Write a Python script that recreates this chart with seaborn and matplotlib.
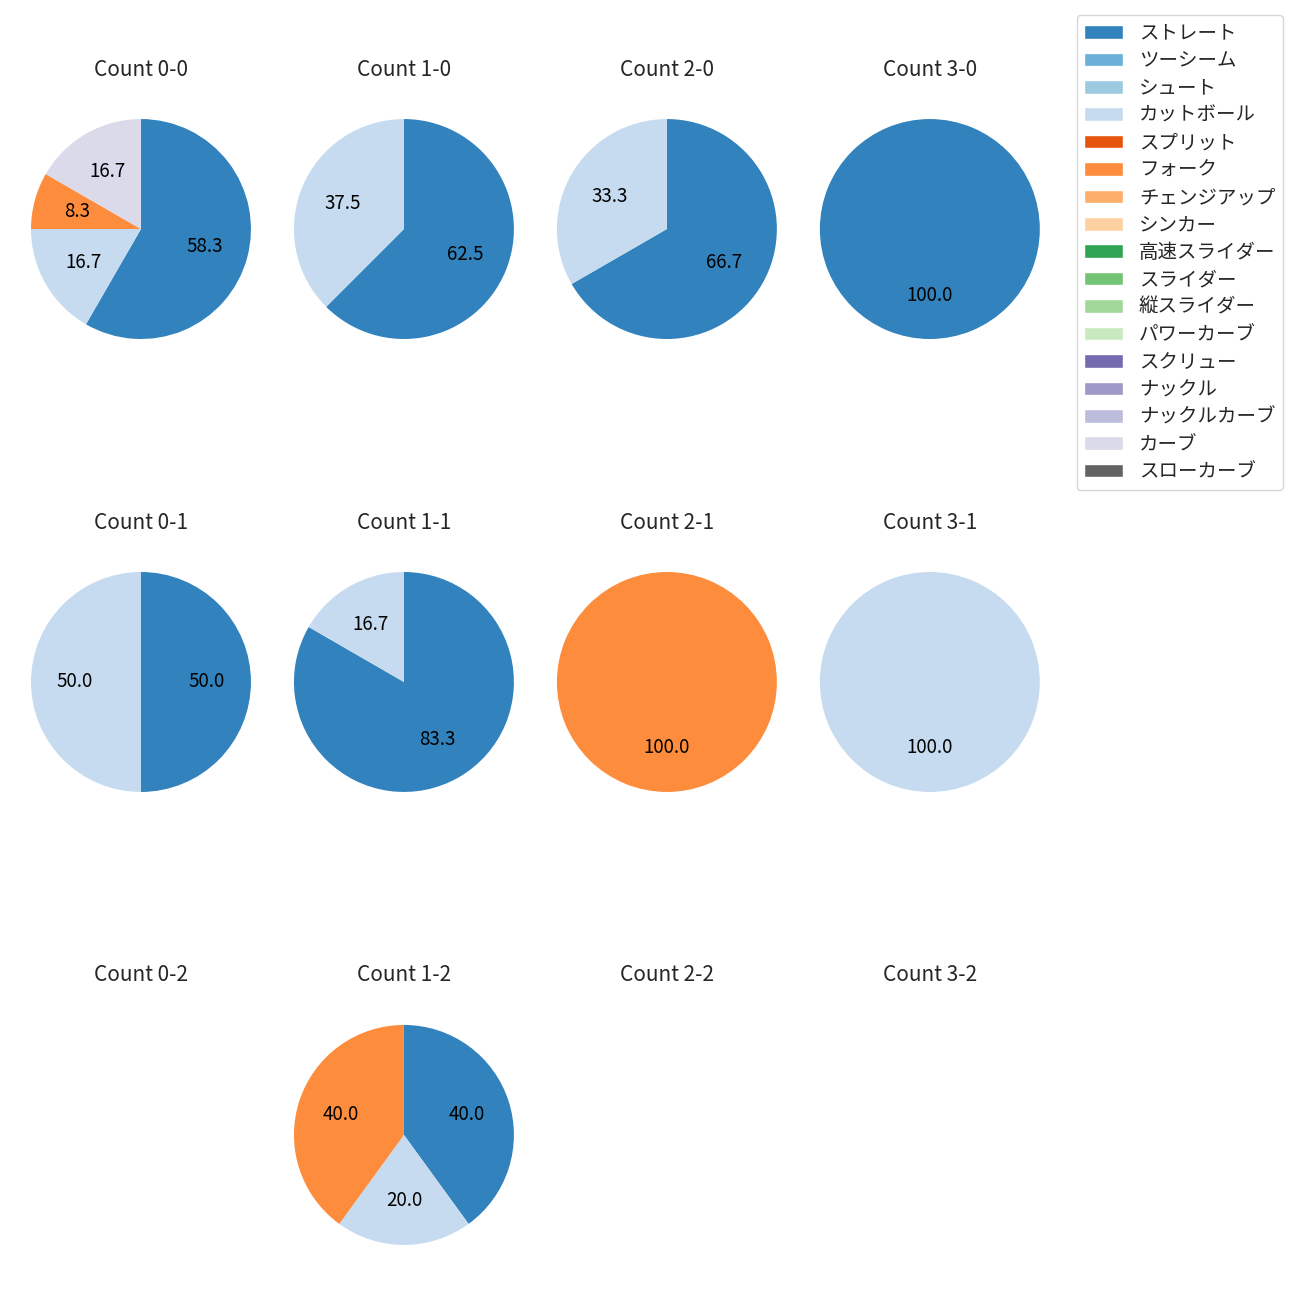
import matplotlib
matplotlib.use("Agg")
import matplotlib.pyplot as plt
import seaborn as sns
from matplotlib.patches import Patch

# pitch types (legend order) and colours from tab20c
pitch_types = ['ストレート', 'ツーシーム', 'シュート', 'カットボール', 'スプリット', 'フォーク',
               'チェンジアップ', 'シンカー', '高速スライダー', 'スライダー', '縦スライダー',
               'パワーカーブ', 'スクリュー', 'ナックル', 'ナックルカーブ', 'カーブ', 'スローカーブ']
palette = sns.color_palette('tab20c', 20)[:len(pitch_types)]

balls = [0, 1, 2, 3]
strikes = [0, 1, 2]

# pitch counts per ball-strike count
count_0_0 = {'ストレート': 7, 'カットボール': 2, 'フォーク': 1, 'カーブ': 2}
count_1_0 = {'ストレート': 5, 'カットボール': 3}
count_2_0 = {'ストレート': 2, 'カットボール': 1}
count_3_0 = {'ストレート': 1}
count_0_1 = {'ストレート': 1, 'カットボール': 1}
count_1_1 = {'ストレート': 5, 'カットボール': 1}
count_2_1 = {'フォーク': 1}
count_3_1 = {'カットボール': 1}
count_0_2 = {}
count_1_2 = {'ストレート': 2, 'カットボール': 1, 'フォーク': 2}
count_2_2 = {}
count_3_2 = {}

counts = {
    (0, 0): count_0_0, (1, 0): count_1_0, (2, 0): count_2_0, (3, 0): count_3_0,
    (0, 1): count_0_1, (1, 1): count_1_1, (2, 1): count_2_1, (3, 1): count_3_1,
    (0, 2): count_0_2, (1, 2): count_1_2, (2, 2): count_2_2, (3, 2): count_3_2,
}

sns.set_theme(style='white')
plt.rcParams['font.family'] = ['Noto Sans CJK JP', 'DejaVu Sans']

fig, axes = plt.subplots(3, 4, figsize=(13, 13), dpi=100)
fig.subplots_adjust(left=0.0027, right=0.821, top=0.9296, bottom=0.0212,
                    wspace=-0.0436, hspace=0.647)

for s in strikes:
    for b in balls:
        ax = axes[s][b]
        data = counts[(b, s)]
        ax.set_title(f'Count {b}-{s}', fontsize=15, pad=11.5)
        if not data:
            ax.axis('off')
            continue
        labels = [p for p in pitch_types if data.get(p, 0) > 0]
        values = [data[p] for p in labels]
        colors = [palette[pitch_types.index(p)] for p in labels]
        ax.pie(values, colors=colors, autopct='%.1f', startangle=90,
               counterclock=False, wedgeprops={'linewidth': 0},
               textprops={'fontsize': 13.5, 'color': 'black'})
        ax.set_aspect('equal')

handles = [Patch(facecolor=palette[i], label=p) for i, p in enumerate(pitch_types)]
fig.legend(handles=handles, loc='upper right', bbox_to_anchor=(0.987, 0.9885),
           borderaxespad=0, fontsize=14, labelspacing=0.33, frameon=True,
           edgecolor='#cccccc')

fig.savefig('out.png', dpi=100)
